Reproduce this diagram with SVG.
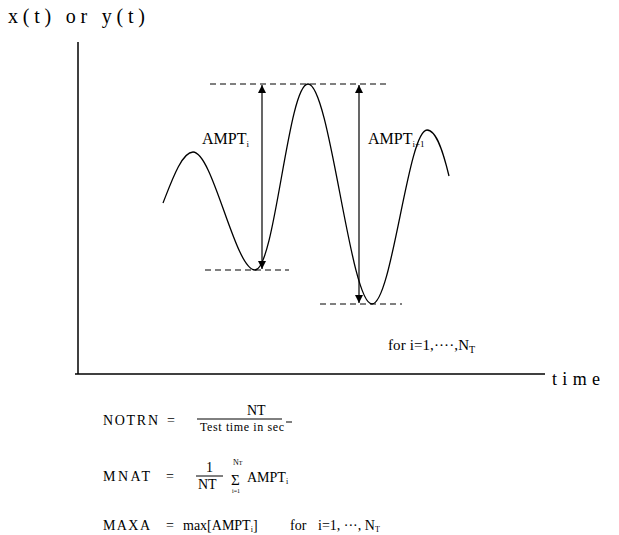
<svg xmlns="http://www.w3.org/2000/svg" width="619" height="535" viewBox="0 0 619 535">
<defs>
<marker id="ah" viewBox="0 0 10 10" refX="10" refY="5" markerWidth="8" markerHeight="10" markerUnits="userSpaceOnUse" orient="auto-start-reverse">
<path d="M0,0 L10,5 L0,10 z" fill="#000"/>
</marker>
</defs>
<style>
text{font-family:"Liberation Serif","Times New Roman",serif;fill:#000}
.ax{stroke:#000;stroke-width:1.5;fill:none}
.dash{stroke:#000;stroke-width:1;stroke-dasharray:6,4;fill:none}
.arr{stroke:#000;stroke-width:1.2;fill:none;marker-start:url(#ah);marker-end:url(#ah)}
.curve{stroke:#000;stroke-width:1.3;fill:none}
.lbl{font-size:16px}
.eq{font-size:14px}
.sm{font-size:8px}
.fl{stroke:#000;stroke-width:1}
</style>
<rect width="619" height="535" fill="#fff"/>
<g id="axes">
<line class="ax" x1="78" y1="42" x2="78" y2="374"/>
<line class="ax" x1="75" y1="374" x2="545" y2="374"/>
<text x="8" y="23" font-size="20" textLength="137" lengthAdjust="spacing">x(t) or y(t)</text>
<text x="552" y="385" font-size="18" textLength="48" lengthAdjust="spacing">time</text>
</g>
<g id="signal">
<path class="curve" d="M163,203 C172,180 182,152 193,152 C213,152 235,270 255,270 C275,270 288,84 308,84 C330,84 350,304 372,304 C392,304 408,130 427,130 C437,130 444,155 449,176"/>
</g>
<g id="levels">
<line class="dash" x1="210" y1="84" x2="390" y2="84"/>
<line class="dash" x1="205" y1="270" x2="289" y2="270"/>
<line class="dash" x1="320" y1="304" x2="402" y2="304"/>
</g>
<g id="connectors">
<line class="arr" x1="262" y1="85" x2="262" y2="269"/>
<line class="arr" x1="359" y1="85" x2="359" y2="303"/>
</g>
<g id="label-ampt-i">
<text class="lbl" x="202" y="144">AMPT<tspan font-size="9" dy="3">i</tspan></text>
</g>
<g id="label-ampt-i1">
<text class="lbl" x="368" y="144">AMPT<tspan font-size="9" dy="3">i+1</tspan></text>
</g>
<g id="range">
<text x="388" y="350" font-size="15" textLength="81" lengthAdjust="spacing">for  i=1,····,N</text>
<text x="469" y="353" font-size="10">T</text>
</g>
<g id="eq-notrn">
<text class="eq" x="103" y="425" textLength="55" lengthAdjust="spacing">NOTRN</text>
<text class="eq" x="167" y="425">=</text>
<text class="eq" x="247" y="415">NT</text>
<line class="fl" x1="197" y1="419" x2="282" y2="419"/>
<text x="200" y="431" font-size="12" textLength="84" lengthAdjust="spacing">Test time in sec</text>
<line class="fl" x1="286" y1="422" x2="292" y2="422"/>
</g>
<g id="eq-mnat">
<text class="eq" x="103" y="481" textLength="47" lengthAdjust="spacing">MNAT</text>
<text class="eq" x="166" y="481">=</text>
<text class="eq" x="206" y="472">1</text>
<line class="fl" x1="196" y1="476" x2="223" y2="476"/>
<text class="eq" x="198" y="489">NT</text>
<text x="231" y="485" font-size="15">Σ</text>
<text class="sm" x="233" y="465">N<tspan font-size="6">T</tspan></text>
<text x="232" y="493" font-size="6">i=1</text>
<text class="eq" x="247" y="482">AMPT<tspan font-size="8" dy="2">i</tspan></text>
</g>
<g id="eq-maxa">
<text class="eq" x="103" y="530" textLength="47" lengthAdjust="spacing">MAXA</text>
<text class="eq" x="166" y="530">=</text>
<text class="eq" x="183" y="530">max[AMPT<tspan font-size="8" dy="2">i</tspan><tspan dy="-2">]</tspan></text>
<text class="eq" x="290" y="530">for</text>
<text class="eq" x="318" y="530">i=1, ···, N<tspan font-size="8" dy="2">T</tspan></text>
</g>
</svg>
